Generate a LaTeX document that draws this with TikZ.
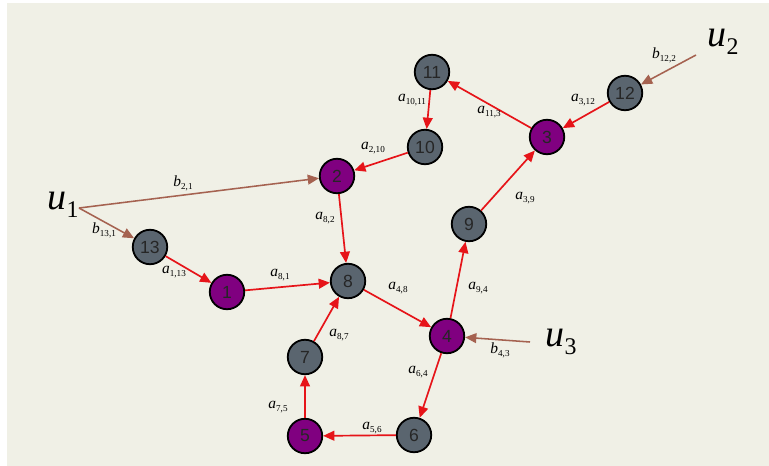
\documentclass[tikz,border=0pt]{standalone}
\usepackage{fontspec}
\setmainfont{Liberation Serif}
\newfontfamily\numfont{Liberation Sans}
\usepackage{xcolor}
\usepackage{tikz}
\usetikzlibrary{arrows.meta}

\definecolor{bgcol}{RGB}{240,240,230}
\definecolor{pnode}{RGB}{128,0,128}
\definecolor{gnode}{RGB}{90,101,111}
\definecolor{flowred}{RGB}{230,20,25}
\definecolor{inbrown}{RGB}{165,98,80}

\newcommand{\ea}[1]{{\fontsize{11}{11}\selectfont\itshape a}\raisebox{-2pt}{\fontsize{6.5}{6.5}\selectfont #1}}
\newcommand{\eb}[1]{{\fontsize{11}{11}\selectfont\itshape b}\raisebox{-2pt}{\fontsize{6.5}{6.5}\selectfont #1}}
\newcommand{\ulab}[1]{{\fontsize{27}{27}\selectfont\itshape u}\raisebox{-6pt}{\fontsize{17}{17}\selectfont #1}}

\begin{document}
\begin{tikzpicture}[x=0.025cm,y=-0.025cm,
  vtx/.style={circle,draw=black,line width=1.3pt,minimum size=24.5pt,inner sep=0pt,font=\numfont\fontsize{12.5}{12.5}\selectfont,text=black!85},
  pv/.style={vtx,fill=pnode},
  gv/.style={vtx,fill=gnode},
  flow/.style={draw=flowred,line width=1.2pt,-{Triangle[length=8pt,width=7pt]}},
  feed/.style={draw=inbrown,line width=1.1pt,-{Triangle[length=8pt,width=7pt]}},
  lab/.style={inner sep=0pt}]
\useasboundingbox (0,0) rectangle (769,466);
\fill[bgcol] (7,3) rectangle (769,466);
% vertices
\node[gv] (n11) at (432,72) {11};
\node[gv] (n12) at (625,93) {12};
\node[pv] (n3) at (547,137) {3};
\node[gv] (n10) at (425,147) {10};
\node[pv] (n2) at (337,176) {2};
\node[gv] (n9) at (469,224) {9};
\node[gv] (n13) at (150,247) {13};
\node[pv] (n1) at (227,292) {1};
\node[gv] (n8) at (348,281) {8};
\node[pv] (n4) at (447,336) {4};
\node[gv] (n7) at (305,357) {7};
\node[pv] (n5) at (305,436) {5};
\node[gv] (n6) at (414,435) {6};
% inputs
\coordinate (s1) at (79,208);
\coordinate (s2) at (696,55);
\coordinate (s3) at (530,342);
\node[lab] (u1) at (63,205) {\ulab{1}};
\node[lab] (u2) at (723,42) {\ulab{2}};
\node[lab] (u3) at (561,342) {\ulab{3}};
\draw[feed] (s1) -- (n2);
\draw[feed] (s1) -- (n13);
\draw[feed] (s2) -- (n12);
\draw[feed] (s3) -- (n4);
% flows
\draw[flow] (n13) -- (n1);
\draw[flow] (n1) -- (n8);
\draw[flow] (n2) -- (n8);
\draw[flow] (n10) -- (n2);
\draw[flow] (n11) -- (n10);
\draw[flow] (n3) -- (n11);
\draw[flow] (n12) -- (n3);
\draw[flow] (n9) -- (n3);
\draw[flow] (n4) -- (n9);
\draw[flow] (n8) -- (n4);
\draw[flow] (n4) -- (n6);
\draw[flow] (n6) -- (n5);
\draw[flow] (n5) -- (n7);
\draw[flow] (n7) -- (n8);
% labels
\node[lab] (lb21) at (183,183) {\eb{2,1}};
\node[lab] (lb131) at (104,230) {\eb{13,1}};
\node[lab] (lb122) at (664,55) {\eb{12,2}};
\node[lab] (lb43) at (500,350) {\eb{4,3}};
\node[lab] (la113) at (174,272) {\ea{1,13}};
\node[lab] (la81) at (280,275) {\ea{8,1}};
\node[lab] (la210) at (373,148) {\ea{2,10}};
\node[lab] (la82) at (325,218) {\ea{8,2}};
\node[lab] (la48) at (398,288) {\ea{4,8}};
\node[lab] (la1011) at (412,100) {\ea{10,11}};
\node[lab] (la113b) at (489,112) {\ea{11,3}};
\node[lab] (la312) at (583,100) {\ea{3,12}};
\node[lab] (la39) at (525,198) {\ea{3,9}};
\node[lab] (la94) at (478,288) {\ea{9,4}};
\node[lab] (la64) at (418,372) {\ea{6,4}};
\node[lab] (la87) at (339,335) {\ea{8,7}};
\node[lab] (la75) at (278,407) {\ea{7,5}};
\node[lab] (la56) at (372,428) {\ea{5,6}};
\end{tikzpicture}
\end{document}
